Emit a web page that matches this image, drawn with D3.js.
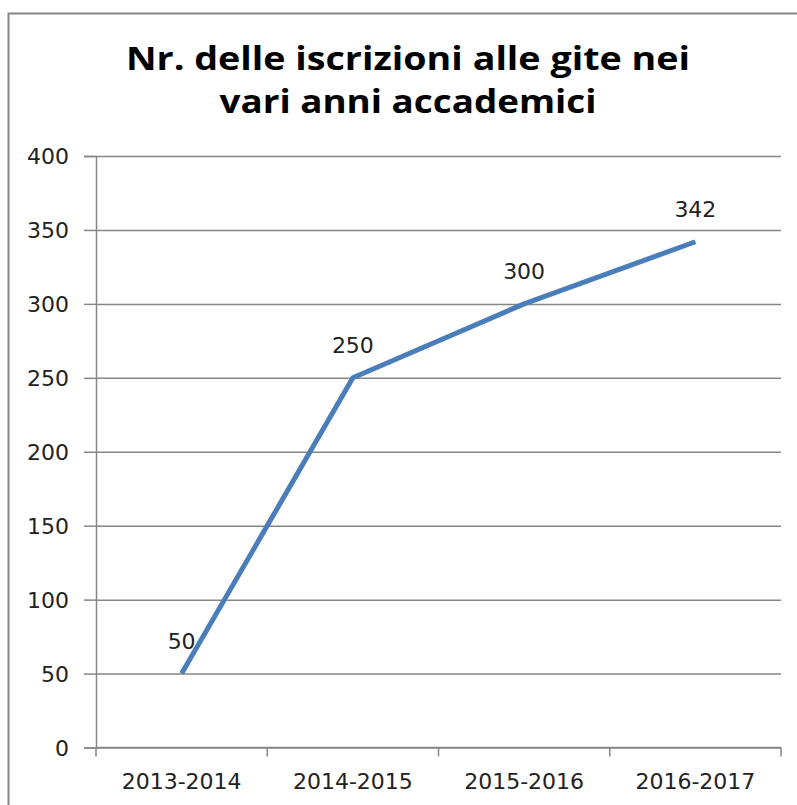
<!DOCTYPE html>
<html>
<head>
<meta charset="utf-8">
<script src="https://cdn.jsdelivr.net/npm/d3@7"></script>
<style>
  body { margin: 0; background: #fff; }
  svg { display: block; }
  .axis text { font-family: "DejaVu Sans", Verdana, sans-serif; font-size: 22px; fill: #222; }
  .axis .domain, .axis line { stroke: #868686; stroke-width: 1.5; }
</style>
</head>
<body>
<svg id="chart" width="797" height="805"></svg>
<script>
// data
let years = ["2013-2014", "2014-2015", "2015-2016", "2016-2017"];
let iscrizioni = [50, 250, 300, 342];
let yTicks = [0, 50, 100, 150, 200, 250, 300, 350, 400];
let titleLines = ["Nr. delle iscrizioni alle gite nei", "vari anni accademici"];
let titleWidths = [564, 377];

let svg = d3.select("#chart");

// outer chart border (right/bottom edges fall outside the window, like the original)
svg.append("rect")
    .attr("x", 8.5).attr("y", 13.5)
    .attr("width", 800).attr("height", 820)
    .attr("fill", "none")
    .attr("stroke", "#868686")
    .attr("stroke-width", 2);

// plot area
let plotLeft = 96, plotRight = 781, plotTop = 156, plotBottom = 747.5;

let x = d3.scaleBand().domain(years).range([plotLeft, plotRight]).padding(0);
let y = d3.scaleLinear().domain([0, 400]).range([plotBottom, plotTop]);

// title, two lines stretched to the width they have in the original
svg.selectAll(".title")
    .data(titleLines)
    .join("text")
    .attr("class", "title")
    .attr("x", 408)
    .attr("y", (d, i) => 69.5 + i * 43)
    .attr("text-anchor", "middle")
    .attr("textLength", (d, i) => titleWidths[i])
    .attr("lengthAdjust", "spacingAndGlyphs")
    .style("font-family", "'Open Sans', Lato, sans-serif")
    .style("font-weight", "bold")
    .style("font-size", "33px")
    .style("fill", "#000")
    .text(d => d);

// y axis with gridlines
let yAxis = svg.append("g")
    .attr("class", "axis")
    .attr("transform", `translate(${plotLeft},0)`)
    .call(d3.axisLeft(y).tickValues(yTicks).tickSize(12).tickPadding(15));
yAxis.selectAll(".tick line").clone()
    .attr("x1", 0)
    .attr("x2", plotRight - plotLeft);
yAxis.selectAll(".tick text").attr("dy", "0.36em");

// x axis, ticks on the band edges
let xAxis = svg.append("g")
    .attr("class", "axis")
    .attr("transform", `translate(0,${plotBottom})`)
    .call(d3.axisBottom(x).tickSize(0).tickPadding(26));
xAxis.selectAll(".tick text").attr("dy", "0.71em");
xAxis.select(".domain").remove();
xAxis.append("line")
    .attr("x1", plotLeft).attr("x2", plotRight)
    .attr("stroke", "#868686").attr("stroke-width", 1.5);
xAxis.selectAll(".edge")
    .data(years.map(d => x(d)).concat([plotRight]))
    .join("line")
    .attr("class", "edge")
    .attr("x1", d => d).attr("x2", d => d)
    .attr("y1", 0).attr("y2", 9)
    .attr("stroke", "#868686").attr("stroke-width", 1.5);

// the line
let pts = years.map((d, i) => [x(d) + x.bandwidth() / 2, y(iscrizioni[i])]);
svg.append("path")
    .attr("d", d3.line()(pts))
    .attr("fill", "none")
    .attr("stroke", "#4a7ebb")
    .attr("stroke-width", 5)
    .attr("stroke-linejoin", "round");

// data labels above the points
svg.selectAll(".lbl")
    .data(iscrizioni)
    .join("text")
    .attr("class", "lbl")
    .attr("x", (d, i) => pts[i][0])
    .attr("y", (d, i) => pts[i][1] - 25)
    .attr("text-anchor", "middle")
    .style("font-family", "'DejaVu Sans', Verdana, sans-serif")
    .style("font-size", "22px")
    .style("fill", "#222")
    .text(d => d);
</script>
</body>
</html>
